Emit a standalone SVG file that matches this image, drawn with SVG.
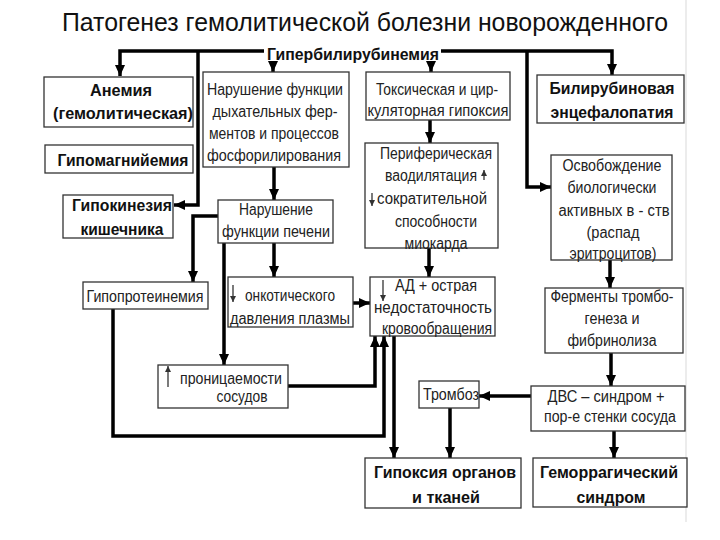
<svg xmlns="http://www.w3.org/2000/svg" width="720" height="540" viewBox="0 0 720 540">
<style>
.bx{fill:#fff;stroke:#333;stroke-width:1.3}
.t{font-family:"Liberation Sans",Arial,sans-serif;font-size:16px;fill:#222;text-anchor:middle}
.b{font-weight:bold;fill:#111}
.c{fill:none;stroke:#000;stroke-width:3.5;marker-end:url(#ah)}
.s{fill:none;stroke:#333;stroke-width:1.3;marker-end:url(#sa)}
.title{font-family:"Liberation Sans",Arial,sans-serif;font-size:25px;fill:#111;text-anchor:middle}
</style>
<defs>
<marker id="ah" markerUnits="userSpaceOnUse" markerWidth="11" markerHeight="10" refX="11" refY="5" orient="auto"><path d="M0,0 L11,5 L0,10 z" fill="#000"/></marker>
<marker id="sa" markerUnits="userSpaceOnUse" markerWidth="6" markerHeight="6" refX="6" refY="3" orient="auto"><path d="M0,0 L6,3 L0,6 z" fill="#333"/></marker>
</defs>
<rect width="720" height="540" fill="#fff"/>
<line x1="686" y1="0" x2="686" y2="522" stroke="#ececec" stroke-width="2"/>
<text class="title" x="365" y="31" textLength="606" lengthAdjust="spacingAndGlyphs">Патогенез гемолитической болезни новорожденного</text>
<text class="t b" x="353" y="60" textLength="172" lengthAdjust="spacingAndGlyphs">Гипербилирубинемия</text>

<g id="connectors">
<path class="c" d="M264,51 H120 V76"/>
<path class="c" d="M441,51 H612 V75"/>
<path class="c" d="M198,51 V205 H174"/>
<path class="c" d="M527,51 V187 H551"/>
<path class="c" d="M273,61 V72"/>
<path class="c" d="M431,61 V72"/>
<path class="c" d="M274,167 V200"/>
<path class="c" d="M430,120 V143"/>
<path class="c" d="M218,216 H193 V282"/>
<path class="c" d="M224,243 V365"/>
<path class="c" d="M274,243 V277"/>
<path class="c" d="M353,303 H370"/>
<path class="c" d="M429,248 V277"/>
<path class="c" d="M113,309 V436 H384 V336"/>
<path class="c" d="M288,386 H375 V336"/>
<path class="c" d="M394,336 V458"/>
<path class="c" d="M610,260 V288"/>
<path class="c" d="M611,353 V386"/>
<path class="c" d="M531,396 H479"/>
<path class="c" d="M450,408 V458"/>
<path class="c" d="M614,431 V458"/>
</g>

<g id="anemia">
<rect class="bx" x="44" y="77" width="149" height="50"/>
<text class="t b" x="121" y="96" textLength="62" lengthAdjust="spacingAndGlyphs">Анемия</text>
<text class="t b" x="123" y="119" textLength="140" lengthAdjust="spacingAndGlyphs">(гемолитическая)</text>
</g>
<g id="resp">
<rect class="bx" x="203" y="72" width="146" height="95"/>
<text class="t" x="275" y="95" textLength="136" lengthAdjust="spacingAndGlyphs">Нарушение функции</text>
<text class="t" x="275" y="117" textLength="125" lengthAdjust="spacingAndGlyphs">дыхательных фер-</text>
<text class="t" x="274" y="139" textLength="130" lengthAdjust="spacingAndGlyphs">ментов и процессов</text>
<text class="t" x="274" y="161" textLength="134" lengthAdjust="spacingAndGlyphs">фосфорилирования</text>
</g>
<g id="toxic">
<rect class="bx" x="366" y="72" width="144" height="48"/>
<text class="t" x="437" y="95" textLength="122" lengthAdjust="spacingAndGlyphs">Токсическая и цир-</text>
<text class="t" x="438" y="116" textLength="141" lengthAdjust="spacingAndGlyphs">куляторная гипоксия</text>
</g>
<g id="bilirubin">
<rect class="bx" x="537" y="75" width="147" height="48"/>
<text class="t b" x="612" y="94" textLength="125" lengthAdjust="spacingAndGlyphs">Билирубиновая</text>
<text class="t b" x="612" y="118" textLength="123" lengthAdjust="spacingAndGlyphs">энцефалопатия</text>
</g>
<g id="hypomag">
<rect class="bx" x="45" y="145" width="148" height="28"/>
<text class="t b" x="123" y="166" textLength="131" lengthAdjust="spacingAndGlyphs">Гипомагнийемия</text>
</g>
<g id="hypokin">
<rect class="bx" x="63" y="195" width="110" height="43"/>
<text class="t b" x="122" y="211" textLength="100" lengthAdjust="spacingAndGlyphs">Гипокинезия</text>
<text class="t b" x="122" y="235" textLength="83" lengthAdjust="spacingAndGlyphs">кишечника</text>
</g>
<g id="periph">
<rect class="bx" x="365" y="143" width="133" height="105"/>
<text class="t" x="436" y="159" textLength="112" lengthAdjust="spacingAndGlyphs">Периферическая</text>
<text class="t" x="431" y="181" textLength="92" lengthAdjust="spacingAndGlyphs">ваодилятация</text>
<line class="s" x1="484" y1="180" x2="484" y2="170"/>
<line class="s" x1="372" y1="193" x2="372" y2="206"/>
<text class="t" x="432" y="204" textLength="110" lengthAdjust="spacingAndGlyphs">сократительной</text>
<text class="t" x="436" y="227" textLength="82" lengthAdjust="spacingAndGlyphs">способности</text>
<text class="t" x="436" y="249" textLength="63" lengthAdjust="spacingAndGlyphs">миокарда</text>
</g>
<g id="release">
<rect class="bx" x="551" y="155" width="121" height="105"/>
<text class="t" x="612" y="171" textLength="99" lengthAdjust="spacingAndGlyphs">Освобождение</text>
<text class="t" x="612" y="193" textLength="89" lengthAdjust="spacingAndGlyphs">биологически</text>
<text class="t" x="614" y="216" textLength="111" lengthAdjust="spacingAndGlyphs">активных в - ств</text>
<text class="t" x="613" y="238" textLength="53" lengthAdjust="spacingAndGlyphs">(распад</text>
<text class="t" x="613" y="259" textLength="87" lengthAdjust="spacingAndGlyphs">эритроцитов)</text>
</g>
<g id="liver">
<rect class="bx" x="218" y="200" width="115" height="43"/>
<text class="t" x="276" y="215" textLength="74" lengthAdjust="spacingAndGlyphs">Нарушение</text>
<text class="t" x="276" y="237" textLength="108" lengthAdjust="spacingAndGlyphs">функции печени</text>
</g>
<g id="hypoprot">
<rect class="bx" x="83" y="282" width="125" height="27"/>
<text class="t" x="145" y="302" textLength="117" lengthAdjust="spacingAndGlyphs">Гипопротеинемия</text>
</g>
<g id="oncotic">
<rect class="bx" x="228" y="277" width="125" height="50"/>
<line class="s" x1="233" y1="285" x2="233" y2="302"/>
<text class="t" x="290" y="301" textLength="90" lengthAdjust="spacingAndGlyphs">онкотического</text>
<text class="t" x="290" y="324" textLength="120" lengthAdjust="spacingAndGlyphs">давления плазмы</text>
</g>
<g id="bp">
<rect class="bx" x="370" y="277" width="125" height="59"/>
<line class="s" x1="383" y1="280" x2="383" y2="301"/>
<text class="t" x="436" y="291" textLength="82" lengthAdjust="spacingAndGlyphs">АД + острая</text>
<text class="t" x="433" y="313" textLength="118" lengthAdjust="spacingAndGlyphs">недостаточность</text>
<text class="t" x="437" y="334" textLength="110" lengthAdjust="spacingAndGlyphs">кровообращения</text>
</g>
<g id="perm">
<rect class="bx" x="158" y="365" width="130" height="43"/>
<line class="s" x1="168" y1="387" x2="168" y2="366"/>
<text class="t" x="231" y="384" textLength="102" lengthAdjust="spacingAndGlyphs">проницаемости</text>
<text class="t" x="242" y="402" textLength="51" lengthAdjust="spacingAndGlyphs">сосудов</text>
</g>
<g id="enzymes">
<rect class="bx" x="545" y="288" width="138" height="65"/>
<text class="t" x="612" y="302" textLength="123" lengthAdjust="spacingAndGlyphs">Ферменты тромбо-</text>
<text class="t" x="612" y="324" textLength="55" lengthAdjust="spacingAndGlyphs">генеза и</text>
<text class="t" x="612" y="346" textLength="89" lengthAdjust="spacingAndGlyphs">фибринолиза</text>
</g>
<g id="thrombosis">
<rect class="bx" x="419" y="381" width="60" height="27"/>
<text class="t" x="451" y="400" textLength="56" lengthAdjust="spacingAndGlyphs">Тромбоз</text>
</g>
<g id="dic">
<rect class="bx" x="531" y="386" width="154" height="45"/>
<text class="t" x="606" y="402" textLength="117" lengthAdjust="spacingAndGlyphs">ДВС – синдром +</text>
<text class="t" x="610" y="422" textLength="132" lengthAdjust="spacingAndGlyphs">пор-е стенки сосуда</text>
</g>
<g id="hypoxia">
<rect class="bx" x="365" y="458" width="156" height="50"/>
<text class="t b" x="445" y="478" textLength="142" lengthAdjust="spacingAndGlyphs">Гипоксия органов</text>
<text class="t b" x="446" y="503" textLength="68" lengthAdjust="spacingAndGlyphs">и тканей</text>
</g>
<g id="hemorrhagic">
<rect class="bx" x="533" y="458" width="154" height="49"/>
<text class="t b" x="609" y="478" textLength="138" lengthAdjust="spacingAndGlyphs">Геморрагический</text>
<text class="t b" x="611" y="503" textLength="69" lengthAdjust="spacingAndGlyphs">синдром</text>
</g>
</svg>
